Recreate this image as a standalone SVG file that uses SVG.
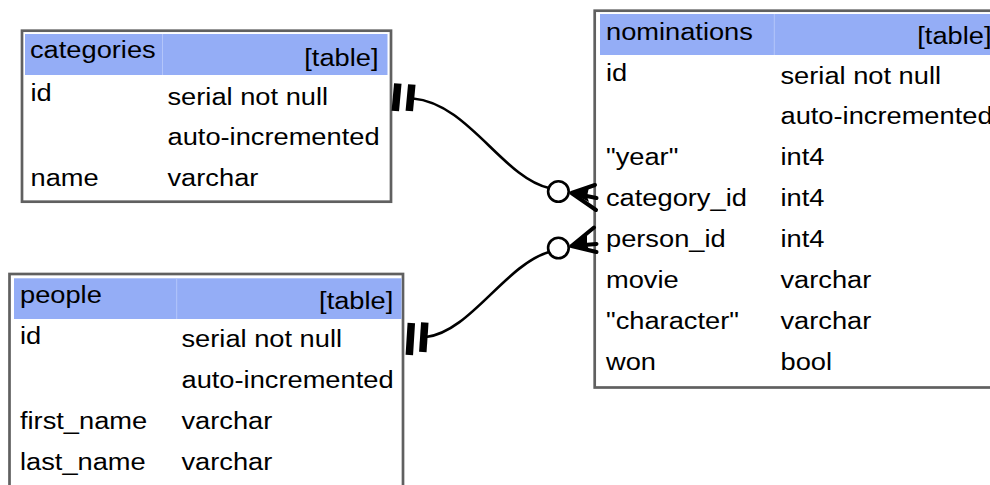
<svg xmlns="http://www.w3.org/2000/svg" width="990" height="485" viewBox="0 0 990 485">
<style>
.frame{fill:#ffffff;stroke:#606060;stroke-width:2.7}
.head{fill:#94adf6}
.div{stroke:#b3c5fa;stroke-width:1}
.t{font-family:"Liberation Sans",Arial,Helvetica,sans-serif;font-size:23.5px;fill:#000}
.r{text-anchor:end}
.edge{fill:none;stroke:#000;stroke-width:2.6}
.bar{stroke:#000;stroke-width:7.5}
.foot{stroke:#000;stroke-width:4;stroke-linecap:round;fill:none}
.wedge{fill:#000}
.ring{fill:#fff;stroke:#000;stroke-width:2.6}
</style>
<rect width="990" height="485" fill="#ffffff"/>

<g id="categories">
  <rect class="frame" x="22" y="30.7" width="369" height="171"/>
  <rect class="head" x="25" y="34" width="362.5" height="41"/>
  <line class="div" x1="162.5" y1="34" x2="162.5" y2="75"/>
  <g transform="scale(1.16 1)">
    <text class="t" x="25.86" y="58.3">categories</text>
    <text class="t r" x="326.29" y="66">[table]</text>
    <text class="t" x="26.29" y="101">id</text>
    <text class="t" x="144.4" y="105">serial not null</text>
    <text class="t" x="144.4" y="145.3">auto-incremented</text>
    <text class="t" x="26.29" y="185.7">name</text>
    <text class="t" x="144.4" y="185.7">varchar</text>
  </g>
</g>

<g id="people">
  <rect class="frame" x="9.5" y="274" width="393.5" height="300"/>
  <rect class="head" x="14" y="278.3" width="387.5" height="40.7"/>
  <line class="div" x1="176.7" y1="278.3" x2="176.7" y2="319"/>
  <g transform="scale(1.16 1)">
    <text class="t" x="17.24" y="302.7">people</text>
    <text class="t r" x="339.05" y="309.5">[table]</text>
    <text class="t" x="17.24" y="344.5">id</text>
    <text class="t" x="156.47" y="347.5">serial not null</text>
    <text class="t" x="156.47" y="388.3">auto-incremented</text>
    <text class="t" x="17.24" y="429">first_name</text>
    <text class="t" x="156.47" y="429">varchar</text>
    <text class="t" x="17.24" y="470">last_name</text>
    <text class="t" x="156.47" y="470">varchar</text>
  </g>
</g>

<g id="nominations">
  <rect class="frame" x="594.7" y="10.7" width="420" height="376.8"/>
  <rect class="head" x="600" y="14" width="400" height="41"/>
  <line class="div" x1="774.3" y1="14" x2="774.3" y2="55"/>
  <g transform="scale(1.16 1)">
    <text class="t" x="522.41" y="40">nominations</text>
    <text class="t r" x="854.74" y="44">[table]</text>
    <text class="t" x="522.41" y="81">id</text>
    <text class="t" x="672.84" y="84">serial not null</text>
    <text class="t" x="672.84" y="124.5">auto-incremented</text>
    <text class="t" x="522.41" y="165.5">"year"</text>
    <text class="t" x="672.84" y="165.5">int4</text>
    <text class="t" x="522.41" y="206.5">category_id</text>
    <text class="t" x="672.84" y="206.5">int4</text>
    <text class="t" x="522.41" y="247.5">person_id</text>
    <text class="t" x="672.84" y="247.5">int4</text>
    <text class="t" x="522.41" y="288.5">movie</text>
    <text class="t" x="672.84" y="288.5">varchar</text>
    <text class="t" x="522.41" y="329.5">"character"</text>
    <text class="t" x="672.84" y="329.5">varchar</text>
    <text class="t" x="522.41" y="370.5">won</text>
    <text class="t" x="672.84" y="370.5">bool</text>
  </g>
</g>

<g id="connectors">
  <g id="categories-nominations">
    <line class="bar" x1="397.8" y1="83.5" x2="395.3" y2="111"/>
    <line class="bar" x1="411.8" y1="84.5" x2="409.3" y2="111"/>
    <path class="edge" d="M413,98.5 C468,103 503,178 549,188"/>
    <circle class="ring" cx="558.4" cy="191.5" r="10.3"/>
    <path class="foot" d="M571.5,193 L595,185 M571.5,193 L596.5,198 M571.5,193 L596,210"/>
    <polygon class="wedge" points="571.5,193 589,187 587,196.5 589,202"/>
  </g>
  <g id="people-nominations">
    <line class="bar" x1="411.3" y1="323" x2="409.3" y2="355"/>
    <line class="bar" x1="424.8" y1="322.5" x2="422.8" y2="352"/>
    <path class="edge" d="M426,337 C470,332 505,265 549,252"/>
    <circle class="ring" cx="558.4" cy="248" r="10.3"/>
    <path class="foot" d="M571.5,246 L594,227.5 M571.5,246 L596.5,244 M571.5,246 L596.5,252"/>
    <polygon class="wedge" points="571.5,246 587,233 587,244.5 589,250"/>
  </g>
</g>
</svg>
